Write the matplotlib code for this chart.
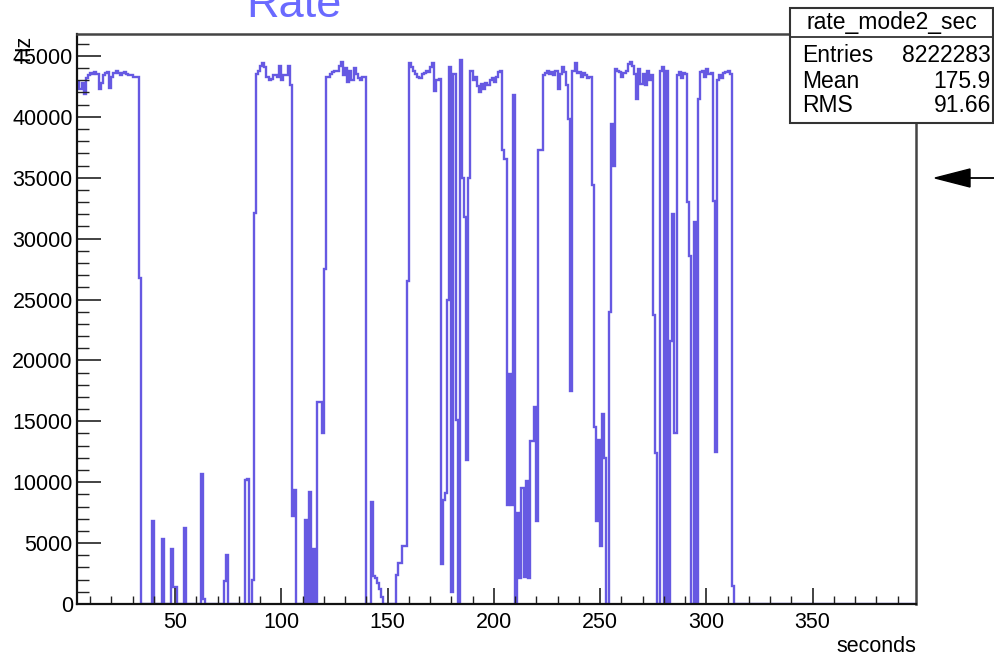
import numpy as np
import matplotlib
matplotlib.use('Agg')
import matplotlib.pyplot as plt
from matplotlib.ticker import MultipleLocator
from matplotlib.patches import Rectangle, Polygon
from matplotlib.lines import Line2D

# ---------------- data (1-second bins, first bin starts at 4 s) ----------------
first_bin = 4
rate_hz = [
    42900, 42300, 42800, 41900, 43200, 43400,                              # 4-9
    43600, 43500, 43700, 43500, 42300, 42800, 43400, 43600, 43700, 42400,  # 10-19
    43300, 43600, 43800, 43600, 43400, 43600, 43700, 43500, 43400, 43400,  # 20-29
    43300, 43300, 43300, 26800, 0, 0, 0, 0, 0, 6800,                       # 30-39
    0, 0, 0, 0, 5300, 0, 0, 0, 4500, 1400,                                 # 40-49
    1400, 0, 0, 0, 6200, 0, 0, 0, 0, 0,                                    # 50-59
    0, 0, 10700, 400, 0, 0, 0, 0, 0, 0,                                    # 60-69
    0, 0, 0, 1900, 4000, 0, 0, 0, 0, 0,                                    # 70-79
    0, 0, 0, 10200, 10300, 0, 2000, 32100, 43500, 43800,                   # 80-89
    44200, 44400, 44100, 43300, 43000, 43100, 43400, 43400, 43300, 44200,  # 90-99
    43000, 43400, 43400, 44200, 42600, 7200, 9400, 0, 0, 0,                # 100-109
    0, 6900, 0, 9200, 0, 4500, 0, 16600, 16600, 14000,                     # 110-119
    27500, 43300, 43300, 43500, 43700, 43800, 43800, 44200, 44500, 43400,  # 120-129
    44000, 42900, 43800, 43000, 44000, 43500, 43200, 43000, 43300, 43300,  # 130-139
    0, 0, 8400, 2300, 2100, 1700, 1200, 600, 0, 0,                         # 140-149
    0, 0, 0, 0, 2400, 3400, 3400, 4800, 4800, 26500,                       # 150-159
    44400, 44100, 43800, 43500, 43300, 43200, 43500, 43600, 43800, 43700,  # 160-169
    44100, 44400, 42100, 43000, 43100, 3300, 8500, 9100, 25000, 44100,     # 170-179
    1000, 43500, 15100, 0, 44700, 35000, 31800, 11800, 35000, 43800,       # 180-189
    43000, 43300, 42500, 42000, 42700, 42300, 42800, 42600, 43000, 43200,  # 190-199
    42900, 43300, 43700, 43800, 37300, 36500, 8100, 18900, 8100, 41800,    # 200-209
    0, 7500, 2100, 9500, 2200, 10100, 2100, 13400, 13400, 16200,           # 210-219
    6800, 37300, 37300, 43400, 43600, 43800, 43500, 43700, 43400, 43800,   # 220-229
    42300, 43500, 44100, 43700, 42600, 39800, 17500, 43800, 44400, 43600,  # 230-239
    43700, 43300, 43600, 43400, 43200, 43300, 34400, 14500, 6800, 13500,   # 240-249
    4800, 15600, 12000, 0, 24000, 39400, 36000, 43900, 43800, 43700,       # 250-259
    43300, 43600, 43800, 44300, 44500, 44200, 43500, 41500, 43900, 42700,  # 260-269
    43500, 42600, 43800, 43000, 43400, 23700, 12400, 0, 43800, 44100,      # 270-279
    0, 43800, 0, 21600, 32000, 14000, 43400, 43700, 43200, 43600,          # 280-289
    43500, 33000, 28600, 0, 31400, 0, 41500, 43700, 43800, 43300,          # 290-299
    43900, 43500, 43600, 33100, 12500, 43000, 43400, 43200, 43600, 43700,  # 300-309
    43800, 43500, 1500, 0, 0, 0, 0, 0, 0, 0,                               # 310-319
    0, 0, 0, 0, 0, 0, 0, 0, 0, 0,                                          # 320-329
    0, 0, 0, 0, 0, 0, 0, 0, 0, 0,                                          # 330-339
    0, 0, 0, 0, 0, 0, 0, 0, 0, 0,                                          # 340-349
    0, 0, 0, 0, 0, 0, 0, 0, 0, 0,                                          # 350-359
    0, 0, 0, 0, 0, 0, 0, 0, 0, 0,                                          # 360-369
    0, 0, 0, 0, 0, 0, 0, 0, 0, 0,                                          # 370-379
    0, 0, 0, 0, 0, 0, 0, 0, 0, 0,                                          # 380-389
    0, 0, 0, 0, 0, 0, 0, 0, 0,                                             # 390-398
]
x_ticks = [50, 100, 150, 200, 250, 300, 350]
y_ticks = [0, 5000, 10000, 15000, 20000, 25000, 30000, 35000, 40000, 45000]
title = 'Rate'
x_title = 'seconds'
y_title = 'Hz'
stats_title = 'rate_mode2_sec'
stats_names = ['Entries', 'Mean', 'RMS']
stats_values = ['8222283', '175.9', '91.66']

# ---------------- figure ----------------
W, H = 995, 658
plt.rcParams['font.family'] = ['Liberation Sans', 'DejaVu Sans']
fig = plt.figure(figsize=(W / 100, H / 100), dpi=100)
fig.patch.set_facecolor('white')


def fx(px):
    return px / W


def fy(py):
    return 1 - py / H


ax = fig.add_axes([fx(77), fy(604), fx(916) - fx(77), fy(34) - fy(604)])
edges = np.arange(first_bin, first_bin + len(rate_hz) + 1)
ax.stairs(rate_hz, edges, baseline=None, color='#6659e2', lw=1.7)

ax.set_xlim(3.88, 398.7)
ax.set_ylim(0, 46800)
ax.set_xticks(x_ticks)
ax.set_yticks(y_ticks)
ax.xaxis.set_minor_locator(MultipleLocator(10))
ax.yaxis.set_minor_locator(MultipleLocator(1000))
ax.tick_params(axis='x', which='major', direction='in', length=11.5, width=1.2,
               top=False, labelsize=15.5, pad=6, color='#222222')
ax.tick_params(axis='x', which='minor', direction='in', length=5.5, width=1.0,
               top=False, color='#222222')
ax.tick_params(axis='y', which='major', direction='in', length=17, width=1.2,
               right=False, labelsize=15.5, pad=3, color='#222222')
ax.tick_params(axis='y', which='minor', direction='in', length=8.5, width=1.0,
               right=False, color='#222222')
for s in ['left', 'bottom']:
    ax.spines[s].set_color('#111111')
    ax.spines[s].set_linewidth(1.6)
for s in ['top', 'right']:
    ax.spines[s].set_color('#444444')
    ax.spines[s].set_linewidth(1.8)

# titles
fig.text(fx(246), fy(17), title, fontsize=32.5, color='#6a6aff',
         ha='left', va='baseline')
fig.text(fx(916), fy(647), x_title, fontsize=15.5, ha='right', va='center')
fig.text(fx(24), fy(35), y_title, fontsize=15.5, rotation=90,
         ha='center', va='top')

# stats box
box = Rectangle((fx(790), fy(123)), fx(993) - fx(790), fy(8) - fy(123),
                transform=fig.transFigure, facecolor='white',
                edgecolor='#333333', lw=1.5, zorder=5)
fig.add_artist(box)
fig.add_artist(Line2D([fx(790), fx(993)], [fy(37), fy(37)],
                      transform=fig.transFigure, color='#333333', lw=1.3,
                      zorder=6))
fig.text((fx(790) + fx(993)) / 2, fy(23), stats_title, fontsize=16.5,
         ha='center', va='center', zorder=7)
for i, (n, v) in enumerate(zip(stats_names, stats_values)):
    yy = fy(56 + 25 * i)
    fig.text(fx(802), yy, n, fontsize=16.5, ha='left', va='center', zorder=7)
    fig.text(fx(991), yy, v, fontsize=16.5, ha='right', va='center', zorder=7)

# arrow outside the frame
tri = Polygon([(fx(935), fy(178)), (fx(970), fy(169)), (fx(970), fy(187))],
              closed=True, transform=fig.transFigure, facecolor='black',
              edgecolor='black', zorder=6)
fig.add_artist(tri)
fig.add_artist(Line2D([fx(965), fx(995)], [fy(178), fy(178)],
                      transform=fig.transFigure, color='black', lw=1.3,
                      zorder=6))

fig.savefig('out.png', dpi=100)
